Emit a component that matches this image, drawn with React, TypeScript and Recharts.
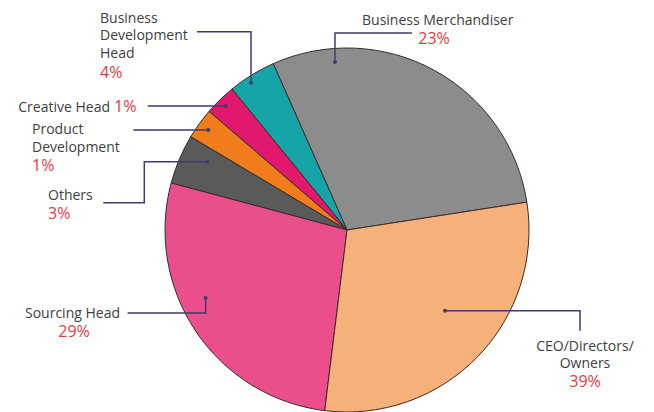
import { Cell, Pie, PieChart } from "recharts";

// slice shares read from the drawn wedges (angles), printed percentages kept separately
const roles = [
  "Business Merchandiser",
  "Business Development Head",
  "Creative Head",
  "Product Development",
  "Others",
  "Sourcing Head",
  "CEO/Directors/Owners",
];
const shares = [29.2, 4.25, 2.8, 2.75, 4.4, 27.2, 29.4];
const printedPct = ["23%", "4%", "1%", "1%", "3%", "29%", "39%"];

const data = roles.map((name, i) => ({ name, value: shares[i], pct: printedPct[i] }));

const colors = ["#8c8c8c", "#16a5a6", "#e2186e", "#f07c1c", "#5a5a5a", "#ea4f8b", "#f6b07a"];

const INK = "#404040";
const RED = "#e03a3e";
const LINE = "#3f3b6e";
const FONT = "'Open Sans', sans-serif";

type TextLine = { t: string; x: number; y: number; anchor?: "start" | "middle" | "end"; red?: boolean };

// callout layout: dot in polar terms (deg, fraction of radius), elbow segments, text lines
const callouts: { a: number; rf: number; segs: [number, number][]; lines: TextLine[] }[] = [
  {
    a: 94.1, rf: 0.925, segs: [[0, -29], [77, 0]],
    lines: [
      { t: "Business Merchandiser", x: 362, y: 19 },
      { t: "23%", x: 434, y: 38, anchor: "middle", red: true },
    ],
  },
  {
    a: 123.1, rf: 0.966, segs: [[0, -51], [-54, 0]],
    lines: [
      { t: "Business", x: 100, y: 17 },
      { t: "Development", x: 100, y: 34 },
      { t: "Head", x: 100, y: 52 },
      { t: "4%", x: 100, y: 72, red: true },
    ],
  },
  {
    a: 134.4, rf: 0.953, segs: [[-78, 0]],
    lines: [
      { t: "Creative Head", x: 110, y: 106, anchor: "end" },
      { t: "1%", x: 114, y: 106, red: true },
    ],
  },
  {
    a: 144.2, rf: 0.94, segs: [[-75, 0]],
    lines: [
      { t: "Product", x: 32, y: 128 },
      { t: "Development", x: 32, y: 146 },
      { t: "1%", x: 32, y: 165, red: true },
    ],
  },
  {
    a: 154, rf: 0.854, segs: [[-63, 0], [0, 41], [-41, 0]],
    lines: [
      { t: "Others", x: 48, y: 194 },
      { t: "3%", x: 48, y: 213, red: true },
    ],
  },
  {
    a: 205.7, rf: 0.862, segs: [[0, 15], [-78, 0]],
    lines: [
      { t: "Sourcing Head", x: 25, y: 312 },
      { t: "29%", x: 74, y: 331, anchor: "middle", red: true },
    ],
  },
  {
    a: -39.5, rf: 0.698, segs: [[135, 0], [0, 20]],
    lines: [
      { t: "CEO/Directors/", x: 585, y: 345, anchor: "middle" },
      { t: "Owners", x: 585, y: 362, anchor: "middle" },
      { t: "39%", x: 585, y: 381, anchor: "middle", red: true },
    ],
  },
];

const RAD = Math.PI / 180;

function renderCallout(props: any) {
  const { cx, cy, outerRadius, index } = props;
  const c = callouts[index];
  const r = outerRadius * c.rf;
  let x = cx + r * Math.cos(c.a * RAD);
  let y = cy - r * Math.sin(c.a * RAD);
  const pts = [`${x},${y}`];
  const dot = { x, y };
  c.segs.forEach(([dx, dy]) => {
    x += dx;
    y += dy;
    pts.push(`${x},${y}`);
  });
  return (
    <g key={`callout-${index}`}>
      <polyline points={pts.join(" ")} fill="none" stroke={LINE} strokeWidth={1.5} />
      <circle cx={dot.x} cy={dot.y} r={2} fill={LINE} />
      {c.lines.map((l, i) => (
        <text
          key={i}
          x={l.x}
          y={l.y}
          textAnchor={l.anchor ?? "start"}
          dominantBaseline="central"
          fill={l.red ? RED : INK}
          fontSize={l.red ? 16 : 14}
          fontWeight={500}
          fontFamily={FONT}
        >
          {l.t}
        </text>
      ))}
    </g>
  );
}

export default function App() {
  return (
    <div style={{ position: "absolute", left: 0, top: 0, width: 654, height: 412, background: "#fff" }}>
      <PieChart width={654} height={412} margin={{ top: 0, right: 0, bottom: 0, left: 0 }}>
        <Pie
          data={data}
          dataKey="value"
          nameKey="name"
          cx={347}
          cy={230}
          outerRadius={182}
          startAngle={8.8}
          endAngle={368.8}
          stroke="#3a2b2b"
          strokeWidth={1}
          label={renderCallout}
          labelLine={false}
          isAnimationActive={false}
        >
          {data.map((d, i) => (
            <Cell key={d.name} fill={colors[i]} />
          ))}
        </Pie>
      </PieChart>
    </div>
  );
}
